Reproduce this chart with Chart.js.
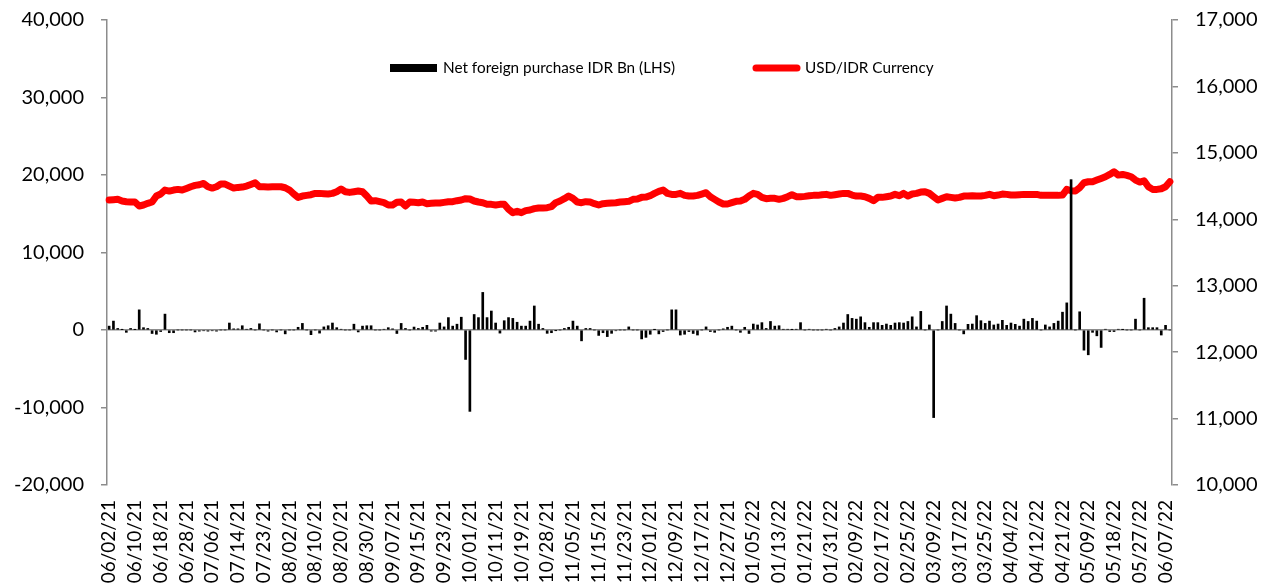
<!DOCTYPE html>
<html>
<head>
<meta charset="utf-8">
<style>
  body { margin: 0; background: #fff; }
</style>
</head>
<body>
<canvas id="myChart" width="1276" height="584"></canvas>
<script src="https://cdn.jsdelivr.net/npm/chart.js@4.4.1/dist/chart.umd.min.js"></script>
<script>
// tick labels on the x axis, one every 6 trading days
const tickLabels = [
    "06/02/21", "06/10/21", "06/18/21", "06/28/21", "07/06/21", "07/14/21", "07/23/21",
    "08/02/21", "08/10/21", "08/20/21", "08/30/21", "09/07/21", "09/15/21", "09/23/21",
    "10/01/21", "10/11/21", "10/19/21", "10/28/21", "11/05/21", "11/15/21", "11/23/21",
    "12/01/21", "12/09/21", "12/17/21", "12/27/21", "01/05/22", "01/13/22", "01/21/22",
    "01/31/22", "02/09/22", "02/17/22", "02/25/22", "03/09/22", "03/17/22", "03/25/22",
    "04/04/22", "04/12/22", "04/21/22", "05/09/22", "05/18/22", "05/27/22", "06/07/22"
];
const labelStep = 6;

// Net foreign purchase IDR Bn (LHS)
const netForeign = [
    500, 1150, 200, 50, -300, 200, 50, 2600, 300, 200,
    -450, -550, -200, 2050, -350, -350, 0, 0, 0, 0,
    -250, -150, -100, -150, -100, -150, 0, 0, 900, 150,
    150, 550, 100, 200, 0, 800, 0, -150, 0, -250,
    0, -500, 0, 0, 350, 850, 0, -600, 0, -400,
    400, 550, 900, 300, 100, 0, 0, 750, -250, 500,
    550, 550, 0, 0, 100, 300, 150, -450, 850, 200,
    0, 380, 200, 350, 600, -150, -150, 900, 400, 1600,
    500, 750, 1650, -3800, -10500, 2000, 1600, 4850, 1600, 2450,
    900, -400, 1200, 1600, 1500, 1000, 500, 500, 1150, 3100,
    750, 200, -430, -350, -50, 0, 200, 350, 1150, 500,
    -1400, 200, 200, 0, -700, -350, -850, -430, -100, 0,
    0, 400, 0, 0, -1150, -950, -550, 50, -500, -200,
    0, 2600, 2600, -650, -550, -200, -450, -650, 0, 400,
    -200, -300, 0, 150, 350, 500, 0, -300, 350, -450,
    770, 650, 950, 200, 1100, 500, 550, 100, 100, 50,
    100, 950, 0, 100, 0, 0, 0, 100, 0, 200,
    400, 900, 2000, 1500, 1400, 1700, 950, 350, 950, 950,
    600, 770, 600, 900, 950, 900, 1100, 1700, 400, 2400,
    0, 650, -11300, 0, 1100, 3100, 2050, 850, 0, -500,
    730, 770, 1850, 1200, 850, 1150, 650, 770, 1250, 600,
    900, 730, 500, 1400, 1100, 1500, 1150, 0, 650, 400,
    850, 1150, 2300, 3500, 19400, 0, 2350, -2600, -3200, -300,
    -750, -2250, 100, -200, -200, 100, 50, 0, 0, 1400,
    0, 4100, 300, 300, 300, -650, 600, 0
];

// USD/IDR Currency (RHS)
const usdIdr = [
    14290, 14295, 14300, 14275, 14265, 14260, 14260, 14200, 14215, 14240,
    14260, 14350, 14380, 14440, 14425, 14440, 14450, 14440, 14465, 14490,
    14510, 14520, 14540, 14490, 14470, 14490, 14530, 14530, 14500, 14470,
    14480, 14485, 14500, 14525, 14550, 14490, 14490, 14485, 14490, 14490,
    14490, 14475, 14440, 14380, 14330, 14350, 14360, 14370, 14390, 14390,
    14385, 14380, 14390, 14415, 14455, 14415, 14405, 14415, 14425, 14415,
    14350, 14275, 14280, 14265, 14250, 14215, 14215, 14255, 14260, 14200,
    14260, 14255, 14250, 14260, 14235, 14240, 14245, 14245, 14255, 14265,
    14265, 14280, 14290, 14310, 14305, 14275, 14260, 14250, 14225, 14225,
    14215, 14225, 14225, 14150, 14100, 14120, 14100, 14130, 14140, 14160,
    14170, 14170, 14175, 14190, 14250, 14275, 14310, 14350, 14315, 14260,
    14250, 14265, 14260, 14235, 14215, 14235, 14240, 14245, 14250, 14260,
    14265, 14270, 14300, 14305, 14330, 14335, 14355, 14390, 14420, 14440,
    14390, 14375, 14375, 14390, 14360, 14350, 14350, 14360, 14380, 14400,
    14340, 14300, 14260, 14230, 14230, 14250, 14270, 14275, 14300, 14350,
    14390, 14375, 14330, 14310, 14315, 14315, 14300, 14315, 14340, 14370,
    14340, 14340, 14345, 14355, 14360, 14360, 14370, 14375, 14360, 14370,
    14380, 14390, 14390, 14365, 14350, 14350, 14340, 14315, 14280, 14330,
    14330, 14340, 14350, 14375, 14355, 14390, 14350, 14380, 14390, 14410,
    14415, 14390, 14340, 14290, 14315, 14340, 14330, 14320, 14330, 14350,
    14350, 14355, 14350, 14350, 14360, 14375, 14355, 14365, 14380, 14375,
    14365, 14365, 14370, 14375, 14375, 14375, 14375, 14360, 14360, 14360,
    14360, 14360, 14365, 14450, 14430, 14425, 14475, 14550, 14565, 14565,
    14590, 14615, 14640, 14675, 14715, 14665, 14675, 14660, 14640, 14590,
    14560, 14580, 14490, 14450, 14450, 14460, 14490, 14565
];

// one category per trading day, only every 6th gets a date label
const categories = netForeign.map((v, i) => i % labelStep === 0 ? (tickLabels[i / labelStep] || "") : "");

const axisGrey = "#8c8c8c";
Chart.defaults.font.family = "Lato, Carlito, Calibri, sans-serif";
Chart.defaults.color = "#000";

// legend is drawn inside the plot, like the excel original
const insideLegend = {
    id: "insideLegend",
    afterDraw(chart) {
        const c = chart.ctx;
        const y = 68;
        c.save();
        c.font = "15.3px Lato, Carlito, Calibri, sans-serif";
        c.textBaseline = "middle";
        c.fillStyle = "#000";
        c.fillRect(390, y - 4, 47, 8);
        c.fillText("Net foreign purchase IDR Bn (LHS)", 443, y);
        c.strokeStyle = "#ff0000";
        c.lineWidth = 7;
        c.lineCap = "round";
        c.beginPath();
        c.moveTo(756, y);
        c.lineTo(797, y);
        c.stroke();
        c.fillText("USD/IDR Currency", 805, y);
        c.restore();
    }
};

// fixed axis sizes so the plot area sits where the original one does
const fixLeft = s => { s.width = 107; s.paddingTop = 0; s.paddingBottom = 0; };
const fixRight = s => { s.width = 104; s.paddingTop = 0; s.paddingBottom = 0; };

new Chart("myChart", {
    type: "bar",
    data: {
        labels: categories,
        datasets: [{
            type: "bar",
            label: "Net foreign purchase IDR Bn (LHS)",
            data: netForeign,
            backgroundColor: "#000",
            barThickness: 2,
            yAxisID: "y"
        }, {
            type: "line",
            label: "USD/IDR Currency",
            data: usdIdr,
            borderColor: "#ff0000",
            backgroundColor: "#ff0000",
            borderWidth: 7,
            pointRadius: 0,
            tension: 0,
            borderJoinStyle: "round",
            borderCapStyle: "round",
            yAxisID: "y1"
        }]
    },
    options: {
        responsive: false,
        animation: false,
        layout: { padding: { top: 20, left: 0, right: 0, bottom: 0 } },
        plugins: {
            legend: { display: false },
            tooltip: { enabled: false }
        },
        scales: {
            x: {
                ticks: { autoSkip: false, maxRotation: 90, minRotation: 90, padding: 15, font: { size: 19 } },
                grid: { display: false, drawTicks: false },
                border: { display: false },
                afterFit: s => { s.height = 99; }
            },
            y: {
                position: "left",
                min: -20000,
                max: 40000,
                ticks: {
                    stepSize: 10000,
                    padding: 17,
                    font: { size: 20 },
                    callback: v => v.toLocaleString("en-US")
                },
                grid: {
                    color: ctx => ctx.tick && ctx.tick.value === 0 ? axisGrey : "transparent",
                    tickColor: axisGrey,
                    tickLength: 6,
                    lineWidth: 1.5
                },
                border: { color: axisGrey, width: 1.5 },
                afterFit: fixLeft
            },
            y1: {
                position: "right",
                min: 10000,
                max: 17000,
                ticks: {
                    stepSize: 1000,
                    padding: 17,
                    font: { size: 20 },
                    callback: v => v.toLocaleString("en-US")
                },
                grid: { drawOnChartArea: false, tickColor: axisGrey, tickLength: 6, lineWidth: 1.5 },
                border: { color: axisGrey, width: 1.5 },
                afterFit: fixRight
            }
        }
    },
    plugins: [insideLegend]
});
</script>
</body>
</html>
